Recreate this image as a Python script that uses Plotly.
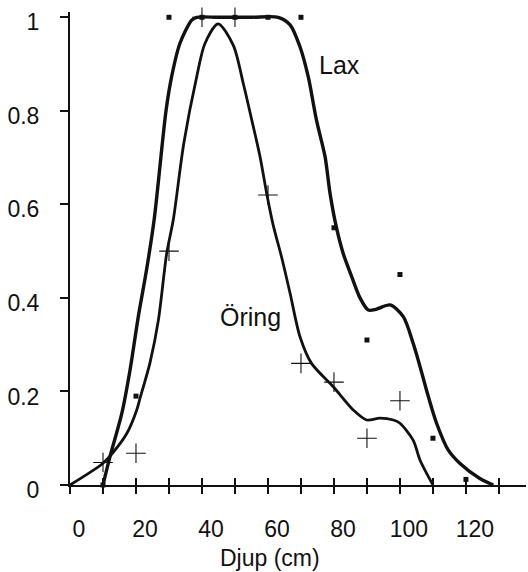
import plotly.graph_objects as go

# Depth classes (cm) and observed values
lax_depth = [10, 20, 30, 40, 50, 60, 70, 80, 90, 100, 110, 120]
lax_value = [0.0, 0.19, 1.0, 1.0, 1.0, 1.0, 1.0, 0.55, 0.31, 0.45, 0.10, 0.012]

oring_depth = [10, 20, 30, 40, 50, 60, 70, 80, 90, 100]
oring_value = [0.048, 0.068, 0.50, 1.0, 1.0, 0.62, 0.26, 0.22, 0.10, 0.18]

# Fitted curves
lax_curve_x = [10, 12.1, 15.7, 18.2, 20.7, 23.2, 25.5, 29.1, 30.8, 33.3, 36.9, 38.4, 45, 55,
               63.1, 66.7, 69.7, 72.2, 74.7, 77.3, 78.8, 80.8, 82.8, 85.4, 87.9, 90.4, 92.9,
               97, 101, 104, 106.1, 108.6, 111.1, 114.6, 118.2, 124.2, 128.3]
lax_curve_y = [0.0, 0.06, 0.153, 0.246, 0.36, 0.46, 0.567, 0.80, 0.873, 0.944, 0.994, 1.0, 1.0, 1.0,
               1.0, 0.984, 0.937, 0.873, 0.78, 0.702, 0.624, 0.549, 0.495, 0.445, 0.40, 0.374, 0.376,
               0.385, 0.36, 0.303, 0.253, 0.189, 0.132, 0.075, 0.046, 0.014, 0.0]

oring_curve_x = [0, 9.9, 13.1, 17.2, 20.2, 21.2, 24.2, 26.8, 29.3, 31.3, 34.5, 38.4, 40.9, 44.9,
                 49.5, 52.5, 55.1, 57.6, 59.6, 61.6, 64.1, 66.7, 69.7, 73.2, 79.8, 85.9, 89.9,
                 93.9, 98, 100, 104, 106.1, 110]
oring_curve_y = [0.0, 0.046, 0.07, 0.11, 0.16, 0.185, 0.26, 0.353, 0.495, 0.567, 0.731, 0.873, 0.944, 0.986,
                 0.94, 0.859, 0.78, 0.702, 0.624, 0.555, 0.488, 0.41, 0.317, 0.26, 0.21, 0.16, 0.139,
                 0.143, 0.139, 0.132, 0.096, 0.053, 0.0]

x_tickvals = list(range(0, 140, 10))
x_ticktext = [str(v) if v % 20 == 0 else "" for v in x_tickvals]
y_tickvals = [0, 0.2, 0.4, 0.6, 0.8, 1.0]
y_ticktext = ["0", "0.2", "0.4", "0.6", "0.8", "1"]

FONT = "Liberation Sans, Arial, Helvetica, sans-serif"
INK = "#111111"
XR = [0, 138.2]
YR = [0, 1.0113]

fig = go.Figure()
fig.add_trace(go.Scatter(x=lax_curve_x, y=lax_curve_y, mode="lines",
                         line=dict(color=INK, width=3.4, shape="spline", smoothing=0.8),
                         showlegend=False, hoverinfo="skip"))
fig.add_trace(go.Scatter(x=oring_curve_x, y=oring_curve_y, mode="lines",
                         line=dict(color=INK, width=2.8, shape="spline", smoothing=0.8),
                         showlegend=False, hoverinfo="skip"))
fig.add_trace(go.Scatter(x=lax_depth, y=lax_value, mode="markers", name="Lax",
                         marker=dict(symbol="square", size=5, color=INK),
                         cliponaxis=False, showlegend=False))
fig.add_trace(go.Scatter(x=oring_depth, y=oring_value, mode="markers", name="Öring",
                         marker=dict(symbol="cross-thin", size=14, line=dict(width=1.1, color=INK)),
                         cliponaxis=False, showlegend=False))
# empty trace to register the overlay axis that draws the upper half of the x ticks
fig.add_trace(go.Scatter(x=[], y=[], xaxis="x2", showlegend=False, hoverinfo="skip"))

fig.update_layout(
    template="none",
    width=528, height=572,
    margin=dict(l=70, r=2, t=12, b=87, pad=0),
    paper_bgcolor="white", plot_bgcolor="white",
    font=dict(family=FONT, color=INK),
    xaxis=dict(range=XR, tickvals=x_tickvals, ticktext=x_ticktext, automargin=False,
               ticks="outside", ticklen=7, tickwidth=1.6, tickcolor=INK,
               showline=True, linewidth=2, linecolor=INK, showgrid=False, zeroline=False,
               tickfont=dict(size=23, family=FONT, color=INK),
               ticklabelstandoff=15, ticklabelshift=9),
    xaxis2=dict(range=XR, overlaying="x", anchor="y", side="bottom", automargin=False,
                tickvals=x_tickvals, ticks="inside", ticklen=7, tickwidth=1.6, tickcolor=INK,
                showticklabels=False, showline=False, showgrid=False, zeroline=False),
    yaxis=dict(range=YR, tickvals=y_tickvals, ticktext=y_ticktext, automargin=False,
               ticks="outside", ticklen=8, tickwidth=1.6, tickcolor=INK,
               showline=True, linewidth=2, linecolor=INK, showgrid=False, zeroline=False,
               tickfont=dict(size=23, family=FONT, color=INK),
               ticklabelstandoff=16, ticklabelshift=5),
    annotations=[
        dict(text="Djup (cm)", x=60.6, xref="x", y=-0.1543, yref="paper",
             xanchor="center", yanchor="middle", showarrow=False,
             font=dict(size=23, family=FONT, color=INK)),
        dict(text="Lax", x=81.8, y=0.898, xref="x", yref="y", showarrow=False,
             xanchor="center", yanchor="middle", font=dict(size=25, family=FONT, color=INK)),
        dict(text="Öring", x=54.8, y=0.36, xref="x", yref="y", showarrow=False,
             xanchor="center", yanchor="middle", font=dict(size=25, family=FONT, color=INK)),
    ],
)

# remove the browser's default 8px page margin so the figure sits at the window origin
fig.write_html("out.html", config={"displayModeBar": False},
               post_script="document.body.style.margin='0';")
